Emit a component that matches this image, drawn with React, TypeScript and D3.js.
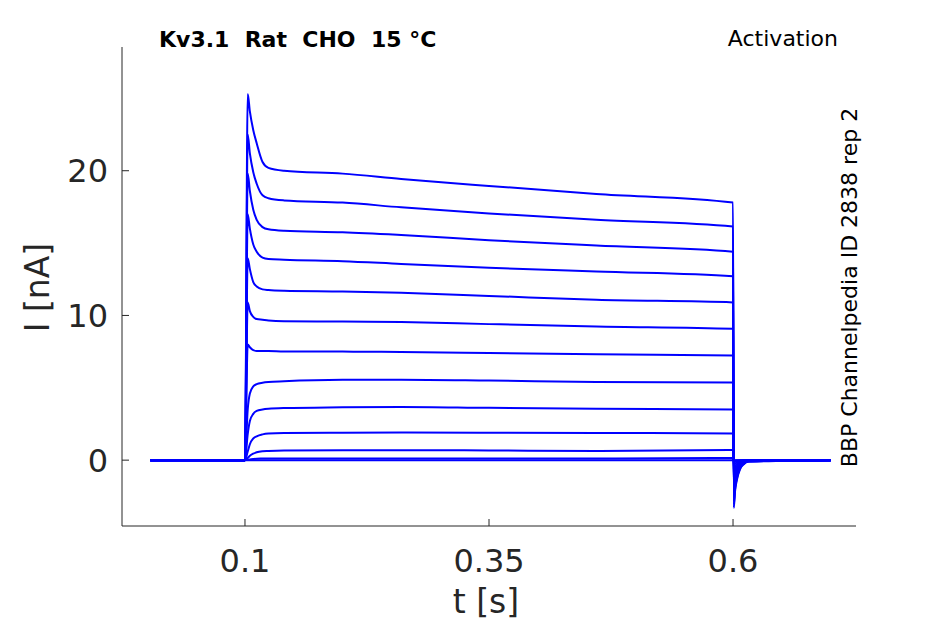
import React from "react";
import * as d3 from "d3";

const TIME = [0.003, 0.1, 0.1028, 0.105, 0.1085, 0.112, 0.118, 0.124, 0.14, 0.2, 0.26, 0.35, 0.46, 0.6, 0.6008, 0.602, 0.604, 0.607, 0.611, 0.616, 0.7];

const TRACE_1 = [0, 0, 25.3, 24.1, 22.8, 21.9, 20.6, 20.2, 20.0, 19.8, 19.43, 18.95, 18.4, 17.8, -3.3, -2.2, -1.35, -0.65, -0.28, -0.1, 0];
const TRACE_2 = [0, 0, 22.5, 21.2, 19.9, 19.1, 18.3, 18.1, 17.95, 17.8, 17.47, 17.05, 16.62, 16.15, -3.1, -2.05, -1.25, -0.6, -0.26, -0.09, 0];
const TRACE_3 = [0, 0, 19.8, 18.6, 17.3, 16.6, 16.1, 15.95, 15.85, 15.75, 15.56, 15.2, 14.83, 14.4, -2.85, -1.9, -1.15, -0.55, -0.24, -0.08, 0];
const TRACE_4 = [0, 0, 17.0, 16.0, 14.9, 14.4, 14.0, 13.9, 13.85, 13.75, 13.56, 13.3, 13.03, 12.7, -2.55, -1.7, -1.0, -0.5, -0.22, -0.07, 0];
const TRACE_5 = [0, 0, 13.95, 13.2, 12.3, 12.0, 11.8, 11.75, 11.7, 11.65, 11.56, 11.35, 11.08, 10.9, -2.2, -1.45, -0.85, -0.42, -0.18, -0.06, 0];
const TRACE_6 = [0, 0, 10.9, 10.3, 9.9, 9.75, 9.7, 9.65, 9.6, 9.58, 9.54, 9.4, 9.24, 9.08, -1.8, -1.2, -0.7, -0.35, -0.15, -0.05, 0];
const TRACE_7 = [0, 0, 8.0, 7.8, 7.6, 7.55, 7.55, 7.55, 7.5, 7.5, 7.47, 7.4, 7.31, 7.24, -1.4, -0.95, -0.55, -0.27, -0.12, -0.04, 0];
const TRACE_8 = [0, 0, 3.5, 4.6, 5.1, 5.25, 5.35, 5.4, 5.45, 5.55, 5.56, 5.5, 5.4, 5.36, -1.0, -0.68, -0.4, -0.2, -0.08, -0.03, 0];
const TRACE_9 = [0, 0, 1.8, 2.7, 3.2, 3.4, 3.5, 3.55, 3.6, 3.65, 3.68, 3.62, 3.56, 3.5, -0.65, -0.44, -0.26, -0.13, -0.05, -0.02, 0];
const TRACE_10 = [0, 0, 0.6, 1.1, 1.5, 1.65, 1.78, 1.84, 1.88, 1.9, 1.91, 1.9, 1.88, 1.84, -0.35, -0.24, -0.14, -0.07, -0.03, -0.01, 0];
const TRACE_11 = [0, 0, 0.15, 0.3, 0.45, 0.55, 0.62, 0.64, 0.67, 0.69, 0.69, 0.67, 0.64, 0.7, -0.12, -0.08, -0.05, -0.02, -0.01, 0, 0];
const TRACE_12 = [0, 0, 0.02, 0.05, 0.08, 0.1, 0.11, 0.12, 0.12, 0.12, 0.12, 0.12, 0.12, 0.15, -0.03, -0.02, -0.01, 0, 0, 0, 0];
const TRACE_13 = [0, 0, 0, 0, 0, 0, 0, 0, 0, 0, 0, 0, 0, 0, 0, 0, 0, 0, 0, 0, 0];

const TRACES = [TRACE_1, TRACE_2, TRACE_3, TRACE_4, TRACE_5, TRACE_6, TRACE_7, TRACE_8, TRACE_9, TRACE_10, TRACE_11, TRACE_12, TRACE_13];

const X_TICKS = [0.1, 0.35, 0.6];
const X_TICK_LABELS = ["0.1", "0.35", "0.6"];
const Y_TICKS = [0, 10, 20];
const Y_TICK_LABELS = ["0", "10", "20"];

const TITLE = "Kv3.1  Rat  CHO  15 °C";
const SUBTITLE = "Activation";
const SIDE_TEXT = "BBP Channelpedia ID 2838 rep 2";
const X_LABEL = "t [s]";
const Y_LABEL = "I [nA]";

const W = 945;
const H = 624;
const LEFT = 122;
const RIGHT = 856;
const TOP = 47;
const BOTTOM = 526;
const AXIS = "#262626";
const FONT = "DejaVu Sans, sans-serif";

export default function App() {
  const x = d3.scaleLinear().domain([-0.026, 0.726]).range([LEFT, RIGHT]);
  const y = d3.scaleLinear().domain([-4.55, 28.55]).range([BOTTOM, TOP]);
  const line = d3
    .line<number>()
    .x((_, i) => x(TIME[i]))
    .y((d) => y(d))
    .curve(d3.curveMonotoneX);

  const tickFont = 32;
  const labelFont = 33;
  const smallFont = 22;
  return (
    <svg
      width={W}
      height={H}
      style={{ position: "absolute", left: 0, top: 0, background: "#fff" }}
      fontFamily={FONT}
    >
      <rect x={0} y={0} width={W} height={H} fill="#fff" />
      <g>
        {TRACES.map((tr, i) => (
          <path key={i} d={line(tr) || ""} fill="none" stroke="#0000ff" strokeWidth={2} strokeLinejoin="round" />
        ))}
      </g>
      <line x1={LEFT} x2={LEFT} y1={TOP} y2={BOTTOM} stroke={AXIS} strokeWidth={1} />
      <line x1={LEFT} x2={RIGHT} y1={BOTTOM} y2={BOTTOM} stroke={AXIS} strokeWidth={1} />
      {X_TICKS.map((t, i) => (
        <g key={"xt" + i}>
          <line x1={x(t)} x2={x(t)} y1={BOTTOM} y2={BOTTOM - 7} stroke={AXIS} strokeWidth={1} />
          <text x={x(t)} y={572} textAnchor="middle" fontSize={tickFont} fill={AXIS}>
            {X_TICK_LABELS[i]}
          </text>
        </g>
      ))}
      {Y_TICKS.map((t, i) => (
        <g key={"yt" + i}>
          <line x1={LEFT} x2={LEFT + 7} y1={y(t)} y2={y(t)} stroke={AXIS} strokeWidth={1} />
          <text x={108} y={y(t) + tickFont * 0.36} textAnchor="end" fontSize={tickFont} fill={AXIS}>
            {Y_TICK_LABELS[i]}
          </text>
        </g>
      ))}
      <text x={486} y={613} textAnchor="middle" fontSize={labelFont} fill={AXIS}>
        {X_LABEL}
      </text>
      <text transform="translate(49,287.5) rotate(-90)" textAnchor="middle" fontSize={labelFont} fill={AXIS}>
        {Y_LABEL}
      </text>
      <text x={159} y={47} fontSize={smallFont} fontWeight="bold" fill="#000" style={{ whiteSpace: "pre" }} xmlSpace="preserve">
        {TITLE}
      </text>
      <text x={838} y={46} textAnchor="end" fontSize={smallFont} fill="#000">
        {SUBTITLE}
      </text>
      <text transform="translate(857,287.5) rotate(-90)" textAnchor="middle" fontSize={smallFont} fill="#000">
        {SIDE_TEXT}
      </text>
    </svg>
  );
}
